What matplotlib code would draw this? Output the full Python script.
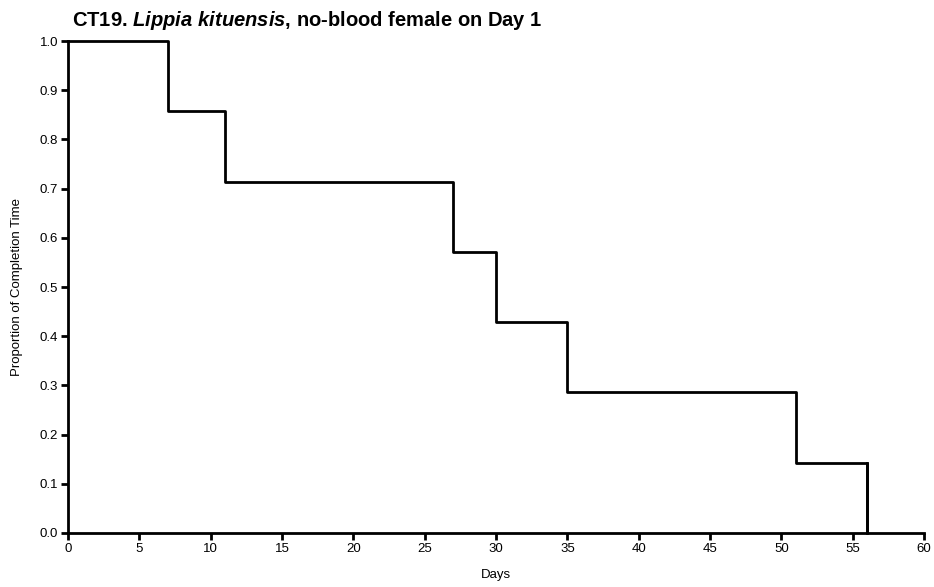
import matplotlib.pyplot as plt

# survival-style step data: event days and proportion remaining
days = [0, 7, 11, 27, 30, 35, 51, 56]
proportion = [1.0, 6/7, 5/7, 4/7, 3/7, 2/7, 1/7, 0.0]

x_ticks = list(range(0, 61, 5))
y_ticks = [i / 10 for i in range(11)]

plt.rcParams['font.family'] = ['Liberation Sans', 'DejaVu Sans']
plt.rcParams['mathtext.fontset'] = 'custom'
plt.rcParams['mathtext.it'] = 'Liberation Sans:italic:bold'
plt.rcParams['mathtext.rm'] = 'Liberation Sans:bold'

fig = plt.figure(figsize=(9.34, 5.87), dpi=100)
ax = fig.add_axes([0.0728, 0.092, 0.9165, 0.838])

ax.step(days, proportion, where='post', color='black', linewidth=2, clip_on=False)
ax.plot([days[-1], days[-1]], [proportion[-2], proportion[-1]], color='black', linewidth=2)

ax.set_xlim(0, 60)
ax.set_ylim(0, 1.0)
ax.set_xticks(x_ticks)
ax.set_yticks(y_ticks)
ax.set_yticklabels([f'{v:.1f}' for v in y_ticks])
ax.tick_params(direction='out', length=5, width=2, labelsize=9.5, pad=2, colors='black')

for side in ('top', 'right'):
    ax.spines[side].set_visible(False)
for side in ('left', 'bottom'):
    ax.spines[side].set_linewidth(2)

ax.set_xlabel('Days', fontsize=9.5, labelpad=10)
ax.set_ylabel('Proportion of Completion Time', fontsize=9.5, labelpad=12)

fig.text(0.077, 0.965, r'CT19. $\mathit{Lippia\ kituensis}$, no-blood female on Day 1',
         fontsize=14.5, fontweight='bold', ha='left', va='center')

fig.savefig('out.png', dpi=100)
